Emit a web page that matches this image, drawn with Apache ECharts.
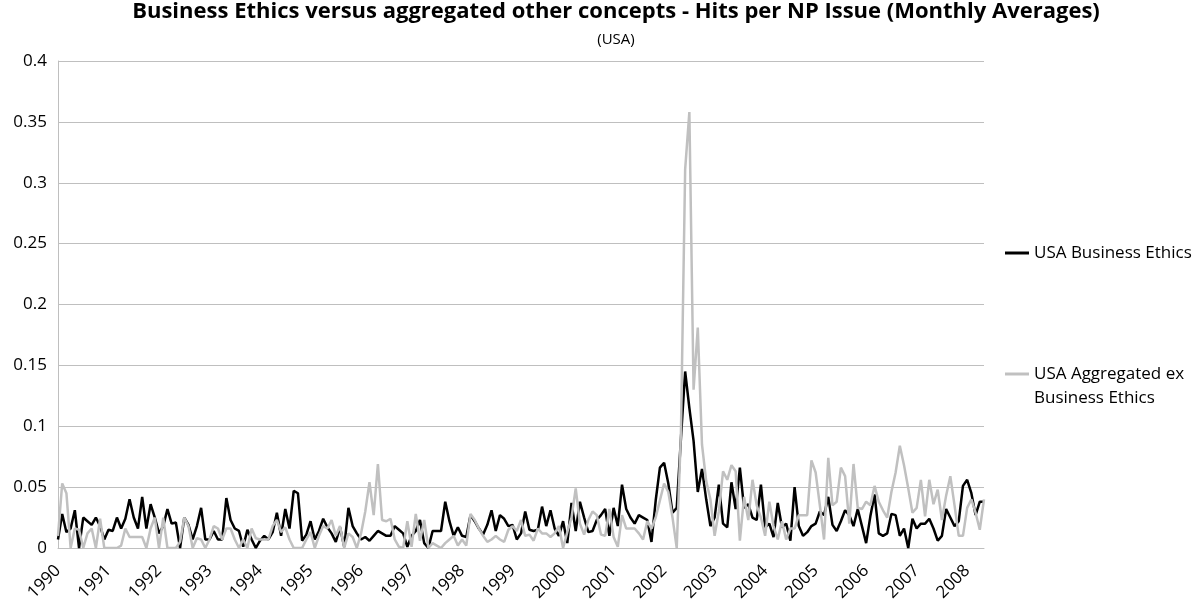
<!DOCTYPE html>
<html>
<head>
<meta charset="utf-8">
<script src="https://cdn.jsdelivr.net/npm/echarts@6/dist/echarts.min.js"></script>
<style>
  html, body { margin: 0; padding: 0; background: #fff; }
  #chart { width: 1193px; height: 611px; }
</style>
</head>
<body>
<div id="chart"></div>
<script>
// 月份类目：1990年1月 到 2008年5月
var startYear = 1990;
var monthCount = 221;
var months = [];
for (var i = 0; i < monthCount; i++) {
  var y = startYear + Math.floor(i / 12);
  var m = (i % 12) + 1;
  months.push(y + '-' + (m < 10 ? '0' + m : m));
}

// USA Business Ethics (black)
var businessEthics = [
  0.007, 0.028, 0.013, 0.016, 0.031, 0.000, 0.025, 0.022, 0.019, 0.025, 0.018, 0.007,
  0.015, 0.014, 0.025, 0.016, 0.024, 0.040, 0.025, 0.016, 0.042, 0.016, 0.036, 0.025,
  0.012, 0.018, 0.032, 0.020, 0.021, 0.000, 0.025, 0.019, 0.007, 0.018, 0.033, 0.007,
  0.007, 0.014, 0.007, 0.007, 0.041, 0.023, 0.016, 0.014, 0.001, 0.015, 0.007, 0.000,
  0.006, 0.010, 0.007, 0.013, 0.029, 0.010, 0.032, 0.016, 0.047, 0.045, 0.006, 0.011,
  0.022, 0.007, 0.014, 0.024, 0.017, 0.012, 0.005, 0.017, 0.001, 0.033, 0.018, 0.012,
  0.007, 0.009, 0.006, 0.010, 0.014, 0.012, 0.010, 0.010, 0.018, 0.015, 0.012, 0.001,
  0.010, 0.014, 0.023, 0.004, 0.000, 0.014, 0.014, 0.014, 0.038, 0.022, 0.010, 0.017,
  0.010, 0.009, 0.027, 0.022, 0.016, 0.011, 0.019, 0.031, 0.014, 0.027, 0.024, 0.018,
  0.019, 0.007, 0.012, 0.030, 0.015, 0.014, 0.015, 0.034, 0.018, 0.031, 0.016, 0.010,
  0.022, 0.004, 0.037, 0.014, 0.038, 0.025, 0.013, 0.014, 0.023, 0.027, 0.032, 0.010,
  0.033, 0.018, 0.052, 0.032, 0.025, 0.020, 0.027, 0.025, 0.023, 0.005, 0.039, 0.066,
  0.070, 0.053, 0.029, 0.033, 0.090, 0.145, 0.115, 0.088, 0.046, 0.065, 0.040, 0.018,
  0.025, 0.052, 0.020, 0.017, 0.054, 0.032, 0.066, 0.033, 0.036, 0.025, 0.023, 0.052,
  0.017, 0.020, 0.009, 0.037, 0.017, 0.020, 0.006, 0.050, 0.018, 0.010, 0.013, 0.018,
  0.020, 0.030, 0.027, 0.042, 0.019, 0.014, 0.022, 0.031, 0.027, 0.018, 0.032, 0.018,
  0.004, 0.026, 0.044, 0.012, 0.010, 0.012, 0.028, 0.027, 0.010, 0.016, 0.000, 0.024,
  0.016, 0.020, 0.020, 0.024, 0.016, 0.006, 0.010, 0.032, 0.025, 0.018, 0.022, 0.051,
  0.056, 0.045, 0.027, 0.038, 0.038
];

// USA Aggregated ex Business Ethics (grey)
var aggregatedEx = [
  0.010, 0.053, 0.045, 0.000, 0.016, 0.015, 0.000, 0.012, 0.016, 0.000, 0.024, 0.000,
  0.000, 0.000, 0.000, 0.002, 0.016, 0.009, 0.009, 0.009, 0.009, 0.000, 0.016, 0.025,
  0.000, 0.025, 0.000, 0.000, 0.000, 0.005, 0.025, 0.018, 0.000, 0.008, 0.007, 0.000,
  0.007, 0.018, 0.016, 0.007, 0.016, 0.016, 0.007, 0.000, 0.007, 0.000, 0.016, 0.008,
  0.007, 0.007, 0.007, 0.018, 0.023, 0.013, 0.017, 0.007, 0.000, 0.000, 0.000, 0.007,
  0.013, 0.000, 0.010, 0.018, 0.016, 0.023, 0.010, 0.018, 0.000, 0.012, 0.009, 0.000,
  0.012, 0.030, 0.054, 0.027, 0.069, 0.023, 0.022, 0.024, 0.007, 0.001, 0.000, 0.022,
  0.001, 0.028, 0.006, 0.023, 0.000, 0.004, 0.002, 0.000, 0.004, 0.007, 0.010, 0.002,
  0.007, 0.002, 0.028, 0.023, 0.016, 0.010, 0.005, 0.007, 0.010, 0.007, 0.005, 0.015,
  0.018, 0.014, 0.023, 0.010, 0.011, 0.006, 0.016, 0.012, 0.012, 0.009, 0.012, 0.018,
  0.000, 0.013, 0.025, 0.049, 0.020, 0.011, 0.023, 0.030, 0.027, 0.011, 0.010, 0.032,
  0.009, 0.001, 0.027, 0.016, 0.016, 0.016, 0.012, 0.007, 0.022, 0.016, 0.025, 0.039,
  0.053, 0.046, 0.025, 0.000, 0.095, 0.311, 0.358, 0.130, 0.181, 0.085, 0.055, 0.040,
  0.010, 0.030, 0.063, 0.056, 0.068, 0.063, 0.006, 0.042, 0.023, 0.056, 0.035, 0.025,
  0.010, 0.038, 0.018, 0.007, 0.022, 0.007, 0.016, 0.016, 0.027, 0.027, 0.027, 0.072,
  0.062, 0.035, 0.007, 0.074, 0.035, 0.038, 0.066, 0.059, 0.020, 0.069, 0.033, 0.032,
  0.038, 0.035, 0.051, 0.038, 0.031, 0.025, 0.046, 0.062, 0.084, 0.068, 0.049, 0.029,
  0.033, 0.056, 0.026, 0.056, 0.036, 0.048, 0.023, 0.043, 0.059, 0.035, 0.010, 0.010,
  0.033, 0.040, 0.029, 0.015, 0.040
];

var seriesNames = ['USA Business Ethics', 'USA Aggregated ex Business Ethics'];
var fontFamily = '"Open Sans", Lato, sans-serif';

var myChart = echarts.init(document.getElementById('chart'));

var option = {
  backgroundColor: '#fff',
  animation: false,
  // 标题
  title: [
    {
      text: 'Business Ethics versus aggregated other concepts - Hits per NP Issue (Monthly Averages)',
      left: 616,
      top: 1,
      padding: 0,
      textAlign: 'center',
      textStyle: { fontFamily: fontFamily, fontWeight: 'bold', fontSize: 22, color: '#000' }
    },
    {
      text: '(USA)',
      left: 616,
      top: 32,
      padding: 0,
      textAlign: 'center',
      textStyle: { fontFamily: fontFamily, fontWeight: 'normal', fontSize: 15, color: '#000' }
    }
  ],
  // 图例 (第二项前面加一个空行, 让线条对齐第一行文字)
  legend: {
    orient: 'vertical',
    left: 1005,
    top: 241,
    padding: 0,
    icon: 'rect',
    itemWidth: 24,
    itemHeight: 3,
    itemGap: 73,
    data: seriesNames,
    formatter: function (name) {
      return name === seriesNames[1] ? '\u00a0\nUSA Aggregated ex\nBusiness Ethics' : name;
    },
    textStyle: { fontFamily: fontFamily, fontSize: 17, color: '#000', lineHeight: 24 }
  },
  grid: {
    left: 58,
    right: 209,
    top: 61,
    bottom: 63,
    containLabel: false
  },
  xAxis: {
    type: 'category',
    boundaryGap: false,
    data: months,
    axisLine: { lineStyle: { color: '#bfbfbf', width: 1 } },
    axisTick: { show: false },
    axisLabel: {
      interval: function (idx) { return idx % 12 === 0; },
      formatter: function (v) { return v.slice(0, 4); },
      rotate: 45,
      align: 'right',
      verticalAlign: 'middle',
      margin: 20,
      fontFamily: fontFamily,
      fontSize: 17,
      color: '#000'
    },
    splitLine: { show: false }
  },
  yAxis: {
    type: 'value',
    min: 0,
    max: 0.4,
    interval: 0.05,
    axisLine: { show: true, lineStyle: { color: '#bfbfbf', width: 1 } },
    axisTick: { show: false },
    axisLabel: {
      margin: 11,
      fontFamily: fontFamily,
      fontSize: 17,
      color: '#000',
      formatter: function (v) { return String(+v.toFixed(2)); }
    },
    splitLine: { lineStyle: { color: '#bfbfbf', width: 1 } }
  },
  series: [
    {
      name: seriesNames[0],
      type: 'line',
      data: businessEthics,
      symbol: 'none',
      lineStyle: { color: '#000', width: 2.5 },
      itemStyle: { color: '#000' }
    },
    {
      name: seriesNames[1],
      type: 'line',
      data: aggregatedEx,
      symbol: 'none',
      lineStyle: { color: '#c0c0c0', width: 2.5 },
      itemStyle: { color: '#c0c0c0' }
    }
  ]
};

myChart.setOption(option);
window.addEventListener('resize', myChart.resize);
</script>
</body>
</html>
